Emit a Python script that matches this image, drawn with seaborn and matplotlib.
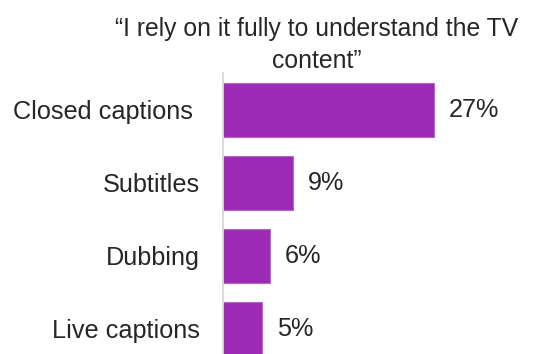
import matplotlib
matplotlib.use("Agg")
import matplotlib.pyplot as plt
import matplotlib.transforms as mtransforms
import seaborn as sns
import pandas as pd

categories = ["Closed captions", "Subtitles", "Dubbing", "Live captions"]
values = [27, 9, 6, 5]
title_text = "\u201cI rely on it fully to understand the TV\ncontent\u201d"

sns.set_style("white")
plt.rcParams["font.family"] = ["Liberation Sans", "DejaVu Sans"]

df = pd.DataFrame({"category": categories, "value": values})

fig = plt.figure(figsize=(5.39, 3.54), dpi=100)
ax = fig.add_axes([0.4137, -0.0325, 0.5788, 0.825])

sns.barplot(data=df, x="value", y="category", ax=ax, color="#9C2AB4",
            saturation=1, width=0.73, edgecolor="#B567CA", linewidth=0.8)

ax.set_xlim(0, 40)
ax.set_ylim(3.5, -0.5)
ax.set_xlabel("")
ax.set_ylabel("")
ax.set_xticks([])
for s in ["top", "right", "bottom"]:
    ax.spines[s].set_visible(False)
ax.spines["left"].set_color("#D9D9D9")
ax.spines["left"].set_linewidth(1.3)
ax.tick_params(axis="y", length=0, pad=16.5, labelsize=18.2, labelcolor="#262626")

# the long first label sits a little further from the axis
first = ax.get_yticklabels()[0]
first.set_transform(first.get_transform() +
                    mtransforms.ScaledTranslation(-7 / 100, 0, fig.dpi_scale_trans))

for i, v in enumerate(values):
    ax.text(v + 1.9, i, f"{v}%", va="center", ha="left",
            fontsize=18.2, color="#262626")

fig.text(317 / 539, 1 - 17 / 354, title_text, ha="center", va="top",
         multialignment="center", fontsize=17.8, color="#262626",
         linespacing=1.4)

fig.savefig("out.png", dpi=100)
